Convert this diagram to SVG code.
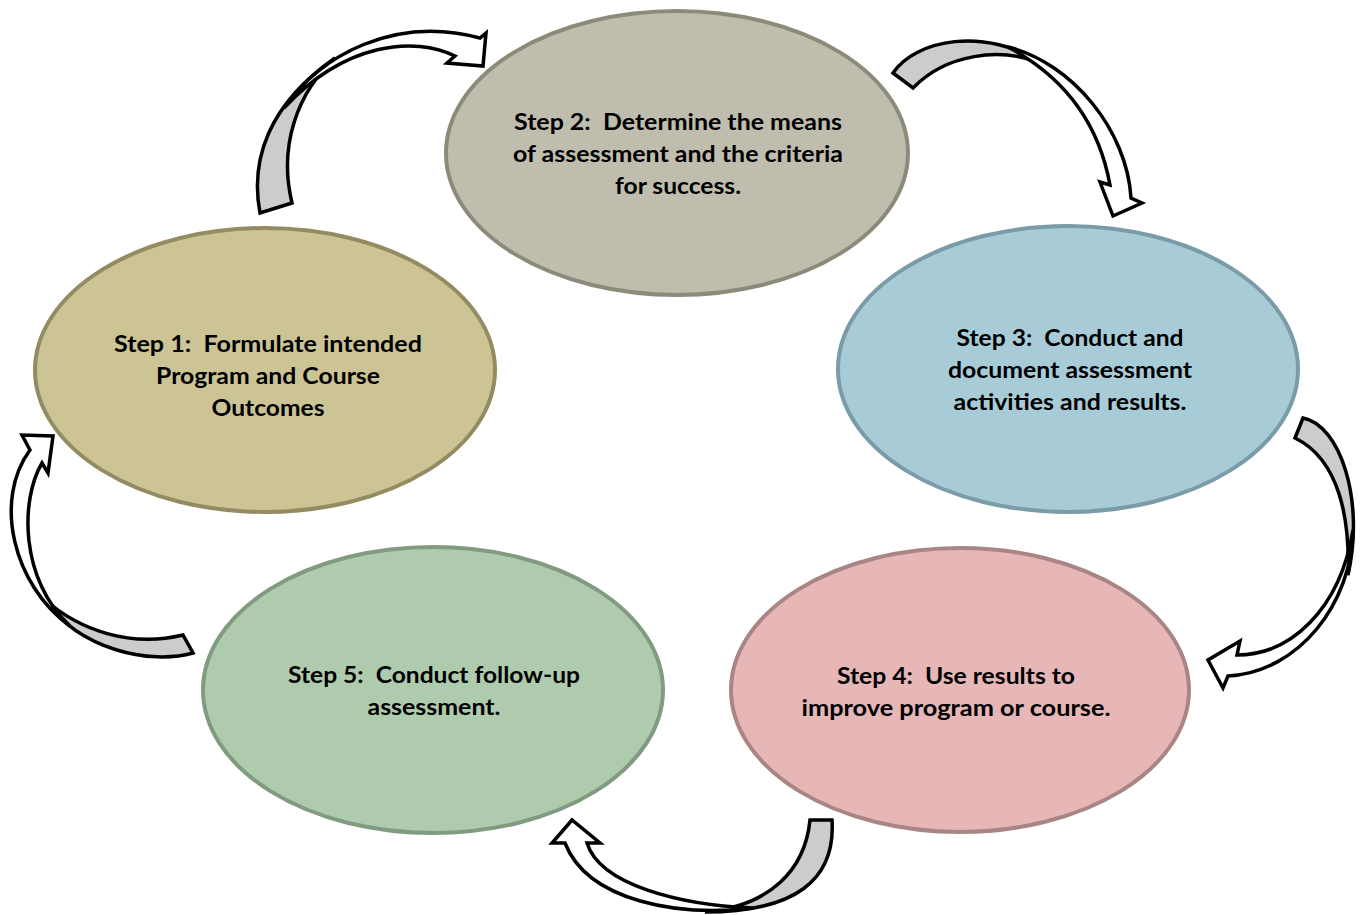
<svg xmlns="http://www.w3.org/2000/svg" width="1367" height="915" viewBox="0 0 1367 915">
<style>
.n{stroke-width:4}
.t{font-family:Lato,"Open Sans","Liberation Sans",sans-serif;font-weight:bold;font-size:22px;fill:#000;text-anchor:middle}
.g{fill:#cccccc;stroke:#000;stroke-width:3.5;stroke-linejoin:miter}
.w{fill:#ffffff;stroke:#000;stroke-width:3.5;stroke-linejoin:miter}
</style>
<rect width="1367" height="915" fill="#ffffff"/>
<g id="step2">
<ellipse class="n" cx="677" cy="153" rx="231" ry="142" fill="#BFBDAE" stroke="#8C8B7A"/>
<text class="t"><tspan x="678" y="130" textLength="328" lengthAdjust="spacingAndGlyphs">Step 2:&#160; Determine the means</tspan><tspan x="678" y="162" textLength="330" lengthAdjust="spacingAndGlyphs">of assessment and the criteria</tspan><tspan x="678" y="194" textLength="126" lengthAdjust="spacingAndGlyphs">for success.</tspan></text>
</g>
<g id="step1">
<ellipse class="n" cx="265" cy="370" rx="230" ry="142" fill="#CCC494" stroke="#948B63"/>
<text class="t"><tspan x="268" y="352" textLength="308" lengthAdjust="spacingAndGlyphs">Step 1:&#160; Formulate intended</tspan><tspan x="268" y="384" textLength="224" lengthAdjust="spacingAndGlyphs">Program and Course</tspan><tspan x="268" y="416" textLength="113" lengthAdjust="spacingAndGlyphs">Outcomes</tspan></text>
</g>
<g id="step3">
<ellipse class="n" cx="1068" cy="369" rx="230" ry="143" fill="#A8CCD7" stroke="#7A9CA8"/>
<text class="t"><tspan x="1070" y="346" textLength="227" lengthAdjust="spacingAndGlyphs">Step 3:&#160; Conduct and</tspan><tspan x="1070" y="378" textLength="244" lengthAdjust="spacingAndGlyphs">document assessment</tspan><tspan x="1070" y="410" textLength="233" lengthAdjust="spacingAndGlyphs">activities and results.</tspan></text>
</g>
<g id="step4">
<ellipse class="n" cx="960" cy="690" rx="229" ry="142" fill="#E7B6B6" stroke="#A98586"/>
<text class="t"><tspan x="956" y="684" textLength="238" lengthAdjust="spacingAndGlyphs">Step 4:&#160; Use results to</tspan><tspan x="956" y="716" textLength="309" lengthAdjust="spacingAndGlyphs">improve program or course.</tspan></text>
</g>
<g id="step5">
<ellipse class="n" cx="433" cy="690" rx="230" ry="143" fill="#AFCBAE" stroke="#809B7F"/>
<text class="t"><tspan x="434" y="683" textLength="292" lengthAdjust="spacingAndGlyphs">Step 5:&#160; Conduct follow-up</tspan><tspan x="434" y="715" textLength="133" lengthAdjust="spacingAndGlyphs">assessment.</tspan></text>
</g>
<g id="connectors">
<g id="arrow-1-2">
<path class="g" d="M260,213 C250,160 268,105 335,58 C298,92 278,145 292,203 Z"/>
<path class="w" d="M284,108 C320,55 395,15 480,38 L486,33 L483,66 L447,63 L455,56 C415,36 345,42 284,108 Z"/>
</g>
<g id="arrow-2-3">
<path class="g" d="M893,73 C915,40 985,25 1045,65 C1000,45 945,55 913,88 Z"/>
<path class="w" d="M1008,47 C1072,63 1127,130 1131,198 L1142,203 L1113,216 L1100,182 L1110,185 C1100,130 1070,80 1008,47 Z"/>
</g>
<g id="arrow-3-4">
<path class="g" d="M1303,418 C1340,425 1365,500 1348,575 C1350,520 1340,460 1295,438 Z"/>
<path class="w" d="M1353,530 C1352,602 1300,672 1228,676 L1223,688 L1208,660 L1240,641 L1237,655 C1290,655 1340,610 1353,530 Z"/>
</g>
<g id="arrow-4-5">
<path class="g" d="M832,820 C836,880 795,912 705,912 C770,906 805,870 810,820 Z"/>
<path class="w" d="M753,908 C680,917 588,902 565,843 L552,843 L572,820 L600,843 L587,843 C600,885 680,905 753,908 Z"/>
</g>
<g id="arrow-5-1">
<path class="g" d="M193,653 C150,665 80,650 45,600 C80,630 130,648 183,635 Z"/>
<path class="w" d="M70,626 C13,585 -7,500 30,450 L22,435 L53,436 L48,473 L42,463 C20,500 20,580 70,626 Z"/>
</g>
</g>
</svg>
